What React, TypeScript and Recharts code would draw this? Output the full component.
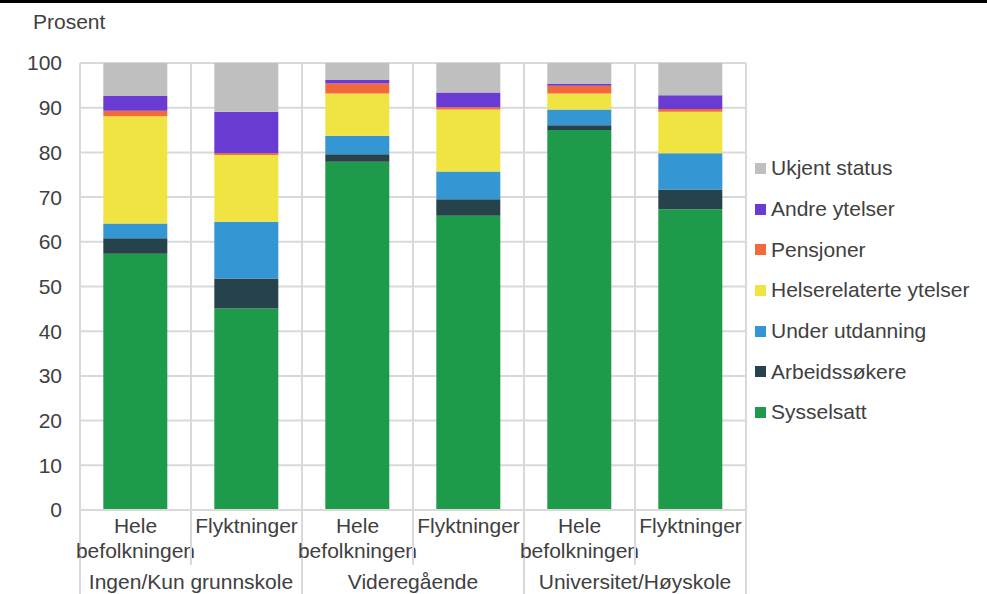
import { BarChart, Bar, XAxis, YAxis, CartesianGrid } from "recharts";

// kategorier (utdanningsnivå / gruppe)
const groups = ["Ingen/Kun grunnskole", "Videregående", "Universitet/Høyskole"];
const populations = ["Hele befolkningen", "Flyktninger"];

// andeler i prosent, i rekkefølge: Ingen-Hele, Ingen-Flykt, Vgs-Hele, Vgs-Flykt, Uni-Hele, Uni-Flykt
const sysselsatt = [57.3, 45.1, 77.9, 65.8, 85.0, 67.3];
const arbeidssokere = [3.5, 6.7, 1.7, 3.7, 1.1, 4.4];
const underUtdanning = [3.3, 12.7, 4.1, 6.2, 3.5, 8.1];
const helserelaterte = [24.0, 14.9, 9.5, 13.9, 3.6, 9.3];
const pensjoner = [1.2, 0.4, 2.2, 0.5, 1.7, 0.6];
const andreYtelser = [3.3, 9.3, 0.8, 3.3, 0.4, 3.1];
const ukjentStatus = [7.4, 10.9, 3.8, 6.6, 4.7, 7.2];

const yTicks = [0, 10, 20, 30, 40, 50, 60, 70, 80, 90, 100];

const series = [
  { key: "sysselsatt", name: "Sysselsatt", color: "#1e9b4a", values: sysselsatt },
  { key: "arbeidssokere", name: "Arbeidssøkere", color: "#26424a", values: arbeidssokere },
  { key: "underUtdanning", name: "Under utdanning", color: "#3496d2", values: underUtdanning },
  { key: "helserelaterte", name: "Helserelaterte ytelser", color: "#f0e442", values: helserelaterte },
  { key: "pensjoner", name: "Pensjoner", color: "#f26a3a", values: pensjoner },
  { key: "andreYtelser", name: "Andre ytelser", color: "#6a3bd2", values: andreYtelser },
  { key: "ukjentStatus", name: "Ukjent status", color: "#bfbfbf", values: ukjentStatus },
];

const data = groups.flatMap((g, gi) =>
  populations.map((p, pi) => {
    const i = gi * 2 + pi;
    const row: any = { id: `${g}|${p}`, group: g, pop: p };
    series.forEach((s) => {
      row[s.key] = s.values[i];
    });
    return row;
  })
);

const FONT = "'Liberation Sans', Arial, sans-serif";
const FS = 21;
const TEXT = "#404040";
const GRID = "#d9d9d9";

// x-akse med to nivåer: populasjon og utdanningsnivå
function CategoryTick(props: any) {
  const { x, y, payload, index } = props;
  const half = payload.offset || 55.5;
  const row = data[index];
  const lines = row.pop === "Hele befolkningen" ? ["Hele", "befolkningen"] : ["Flyktninger"];
  const isGroupStart = index % 2 === 0;
  const isLast = index === data.length - 1;
  return (
    <g>
      <line
        x1={x - half}
        x2={x - half}
        y1={y}
        y2={isGroupStart ? y + 84 : y + 55}
        stroke={GRID}
        strokeWidth={2}
      />
      {isLast && (
        <line x1={x + half} x2={x + half} y1={y} y2={y + 84} stroke={GRID} strokeWidth={2} />
      )}
      {lines.map((l, li) => (
        <text
          key={li}
          x={x}
          y={y + 23 + li * 25}
          textAnchor="middle"
          fontSize={FS}
          fontFamily={FONT}
          fill={TEXT}
        >
          {l}
        </text>
      ))}
      {isGroupStart && (
        <text
          x={x + half}
          y={y + 79}
          textAnchor="middle"
          fontSize={FS}
          fontFamily={FONT}
          fill={TEXT}
        >
          {row.group}
        </text>
      )}
    </g>
  );
}

function LegendList() {
  return (
    <div
      style={{
        position: "absolute",
        left: 755,
        top: 148,
        fontFamily: FONT,
        fontSize: FS,
        color: TEXT,
      }}
    >
      {[...series].reverse().map((s) => (
        <div
          key={s.key}
          style={{ display: "flex", alignItems: "center", height: 40.7, whiteSpace: "nowrap" }}
        >
          <span
            style={{ width: 11, height: 11, background: s.color, marginRight: 5, display: "inline-block" }}
          />
          <span>{s.name}</span>
        </div>
      ))}
    </div>
  );
}

export default function App() {
  return (
    <div
      style={{
        position: "absolute",
        left: 0,
        top: 0,
        width: 987,
        height: 594,
        background: "#fff",
        overflow: "hidden",
      }}
    >
      <div style={{ position: "absolute", left: 0, top: 0, width: 987, height: 3, background: "#000" }} />
      <div
        style={{
          position: "absolute",
          left: 33,
          top: 10,
          fontFamily: FONT,
          fontSize: FS,
          color: TEXT,
        }}
      >
        Prosent
      </div>
      <BarChart
        width={987}
        height={594}
        data={data}
        margin={{ top: 63, right: 241, bottom: 0, left: 0 }}
        barCategoryGap="21%"
      >
        <CartesianGrid
          stroke={GRID}
          strokeWidth={2}
          verticalCoordinatesGenerator={({ offset }: any) =>
            data.map((_, i) => offset.left + (i * offset.width) / data.length).concat(offset.left + offset.width)
          }
        />
        <XAxis
          dataKey="id"
          interval={0}
          tickLine={false}
          tickSize={0}
          tickMargin={0}
          axisLine={{ stroke: GRID, strokeWidth: 2 }}
          tick={<CategoryTick />}
          height={84}
        />
        <YAxis
          width={80}
          domain={[0, 100]}
          ticks={yTicks}
          interval={0}
          tickLine={false}
          tickSize={0}
          tickMargin={18}
          axisLine={{ stroke: GRID, strokeWidth: 2 }}
          tick={{ fontSize: FS, fontFamily: FONT, fill: TEXT }}
        />
        {series.map((s) => (
          <Bar
            key={s.key}
            dataKey={s.key}
            name={s.name}
            stackId="a"
            fill={s.color}
            isAnimationActive={false}
          />
        ))}
      </BarChart>
      <LegendList />
    </div>
  );
}
